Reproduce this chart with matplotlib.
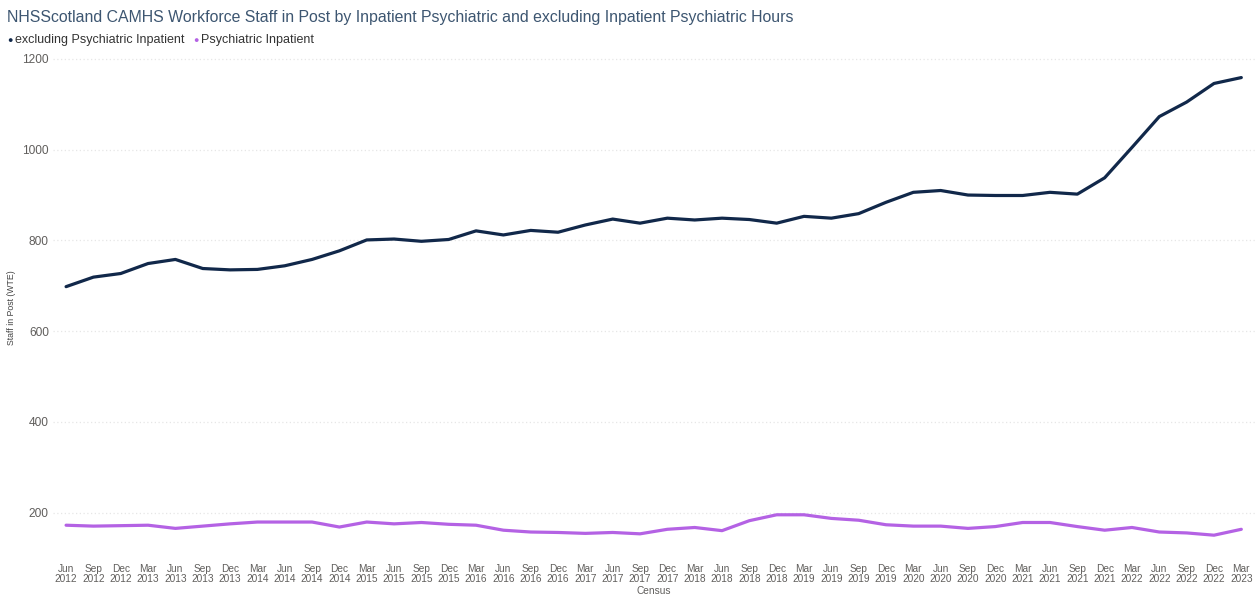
import matplotlib.pyplot as plt

plt.rcParams['font.family'] = ['Liberation Sans', 'DejaVu Sans']

# 季度标签 Jun 2012 - Mar 2023
quarters = ['Jun\n2012', 'Sep\n2012', 'Dec\n2012',
            'Mar\n2013', 'Jun\n2013', 'Sep\n2013', 'Dec\n2013',
            'Mar\n2014', 'Jun\n2014', 'Sep\n2014', 'Dec\n2014',
            'Mar\n2015', 'Jun\n2015', 'Sep\n2015', 'Dec\n2015',
            'Mar\n2016', 'Jun\n2016', 'Sep\n2016', 'Dec\n2016',
            'Mar\n2017', 'Jun\n2017', 'Sep\n2017', 'Dec\n2017',
            'Mar\n2018', 'Jun\n2018', 'Sep\n2018', 'Dec\n2018',
            'Mar\n2019', 'Jun\n2019', 'Sep\n2019', 'Dec\n2019',
            'Mar\n2020', 'Jun\n2020', 'Sep\n2020', 'Dec\n2020',
            'Mar\n2021', 'Jun\n2021', 'Sep\n2021', 'Dec\n2021',
            'Mar\n2022', 'Jun\n2022', 'Sep\n2022', 'Dec\n2022',
            'Mar\n2023']

excluding_inpatient = [698, 719, 727, 749, 758, 738, 735, 736, 744, 758, 777,
                       801, 803, 798, 802, 821, 812, 822, 818, 834, 847, 838,
                       849, 845, 849, 846, 838, 853, 849, 859, 884, 906, 910,
                       900, 899, 899, 906, 902, 938, 1005, 1073, 1105, 1146, 1159]

psych_inpatient = [172, 170, 171, 172, 165, 170, 175, 179, 179, 179, 168,
                   179, 175, 178, 174, 172, 161, 157, 156, 154, 156, 153,
                   163, 167, 160, 182, 195, 195, 187, 183, 173, 170, 170,
                   165, 169, 178, 178, 169, 161, 167, 157, 155, 150, 163]

navy = '#11284a'
purple = '#b462e4'
grey_text = '#605e5c'

x = list(range(len(quarters)))

fig = plt.figure(figsize=(12.58, 5.99), dpi=100)
ax = fig.add_axes([0.0421, 0.0985, 0.9555, 0.8097])

ax.plot(x, excluding_inpatient, color=navy, linewidth=2.3, solid_capstyle='round')
ax.plot(x, psych_inpatient, color=purple, linewidth=2.3, solid_capstyle='round')

ax.set_xlim(-0.48, 43.5)
ax.set_ylim(139.4, 1208.8)
ax.set_yticks([200, 400, 600, 800, 1000, 1200])
ax.set_xticks(x)
ax.set_xticklabels(quarters, fontsize=7.3, color=grey_text, linespacing=1.1)
ax.tick_params(axis='y', labelsize=8.6, colors=grey_text, length=0, pad=3)
ax.tick_params(axis='x', length=0, pad=17)
ax.grid(axis='y', color='#e6e6e6', linestyle=(0, (1, 2)), linewidth=0.9)
for s in ax.spines.values():
    s.set_visible(False)

ax.set_ylabel('Staff in Post (WTE)', fontsize=6.3, color='#444444')
ax.yaxis.set_label_coords(-0.031, 0.48)
ax.set_xlabel('Census', fontsize=7.3, color=grey_text, labelpad=1)

# 标题和图例
fig.text(0.0056, 0.971, 'NHSScotland CAMHS Workforce Staff in Post by Inpatient Psychiatric '
         'and excluding Inpatient Psychiatric Hours',
         fontsize=11.4, color='#3d5671', va='center', ha='left')
fig.text(0.0056, 0.933, '\u25cf', fontsize=6.5, color=navy, va='center')
fig.text(0.0119, 0.933, 'excluding Psychiatric Inpatient', fontsize=9, color='#333333', va='center')
fig.text(0.1535, 0.933, '\u25cf', fontsize=6.5, color=purple, va='center')
fig.text(0.1598, 0.933, 'Psychiatric Inpatient', fontsize=9, color='#333333', va='center')

fig.savefig('out.png', dpi=100)
